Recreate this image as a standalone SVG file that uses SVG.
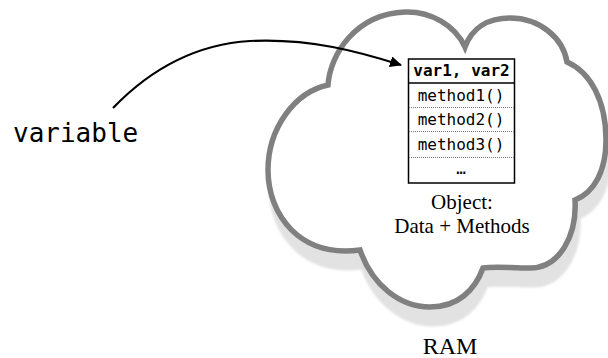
<svg xmlns="http://www.w3.org/2000/svg" width="608" height="358" viewBox="0 0 608 358">
<style>
.mono{font-family:"DejaVu Sans Mono","Liberation Mono",monospace;fill:#000}
.serif{font-family:"Liberation Serif","Times New Roman",serif;fill:#000}
.cell{font-size:16px;text-anchor:middle}
.dot{stroke:#777;stroke-width:1;stroke-dasharray:1 1}
</style>
<defs>
<path id="cloud" d="M 328,85 C 330,55 355,14 405,12 C 430,11 455,25 465,47 C 472,28 488,18 510,18 C 540,18 563,38 567,62 C 590,72 606,100 606,140 C 606,170 595,192 575,200 C 577,235 560,268 530,268 C 510,268 495,266 483,268 C 475,290 458,307 430,307 C 400,307 372,285 360,250 C 300,258 268,215 268,170 C 268,128 295,92 328,85 Z"/>
<marker id="ah" markerWidth="12" markerHeight="11" refX="11" refY="5.5" orient="auto" markerUnits="userSpaceOnUse">
<path d="M0,0 L12,5.5 L0,11 Z" fill="#000"/>
</marker>
<filter id="blur" x="-10%" y="-10%" width="120%" height="120%"><feGaussianBlur stdDeviation="1"/></filter>
</defs>
<g id="ram">
<use href="#cloud" transform="translate(3,17)" fill="#e2e2e2" stroke="#e2e2e2" stroke-width="5" filter="url(#blur)"/>
<use href="#cloud" fill="#fff" stroke="#808080" stroke-width="5.5" stroke-linejoin="miter"/>
<text class="serif" x="450" y="354" font-size="24" text-anchor="middle">RAM</text>
</g>
<g id="object">
<rect x="408.5" y="59" width="106" height="124" fill="#fff" stroke="#000" stroke-width="1.5"/>
<line x1="408.5" y1="83" x2="514.5" y2="83" stroke="#000" stroke-width="1.5"/>
<line class="dot" x1="409" y1="107.5" x2="514" y2="107.5"/>
<line class="dot" x1="409" y1="131.5" x2="514" y2="131.5"/>
<line class="dot" x1="409" y1="157.5" x2="514" y2="157.5"/>
<text class="mono cell" x="461.5" y="76" font-weight="bold">var1, var2</text>
<text class="mono cell" x="461" y="101">method1()</text>
<text class="mono cell" x="461" y="125">method2()</text>
<text class="mono cell" x="461" y="150">method3()</text>
<text class="mono cell" x="461" y="174">…</text>
<text class="serif" x="462" y="209" font-size="21" text-anchor="middle">Object:</text>
<text class="serif" x="462" y="233" font-size="21" text-anchor="middle">Data + Methods</text>
</g>
<g id="variable">
<text class="mono" x="13" y="142" font-size="26">variable</text>
</g>
<g id="connectors">
<path d="M 113,108 C 140,80 185,45 250,41 C 310,38 360,52 401,65" fill="none" stroke="#000" stroke-width="2.2" marker-end="url(#ah)"/>
</g>
</svg>
